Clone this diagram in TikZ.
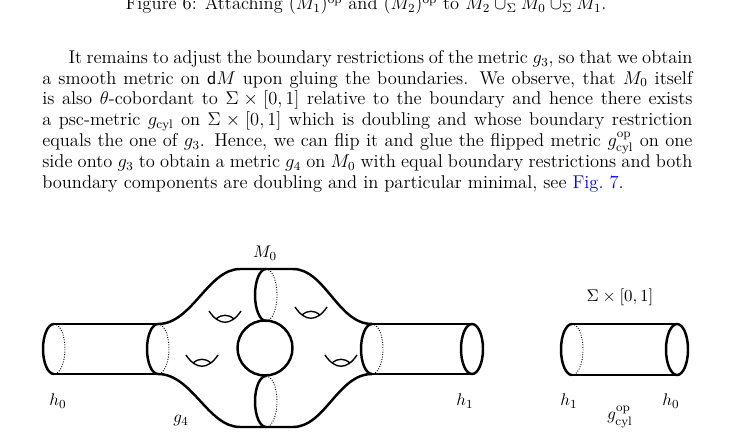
\documentclass[11pt,tikz,border=0pt]{standalone}
\usepackage{amsmath}
\usepackage{xcolor}
\usetikzlibrary{positioning}

\tikzset{
  surf/.style={line width=1.6pt},
  hidden/.style={densely dotted, line width=0.6pt},
  handle/.style={line width=0.9pt},
  lbl/.style={inner sep=1pt},
  prose/.style={font=\fontsize{12}{13.5}\selectfont},
}
\newcommand{\genus}[2]{%
  \draw[handle] (#1-16,#2-7) .. controls (#1-6,#2+8) and (#1+6,#2+8) .. (#1+16,#2-7);
  \draw[handle] (#1-9,#2+1) .. controls (#1-3,#2-4) and (#1+3,#2-4) .. (#1+9,#2+1);
}

\begin{document}
\begin{tikzpicture}[x=0.649pt, y=-0.649pt]

% page frame
\useasboundingbox (0,0) rectangle (732,438);

% Caption and text
\node[prose, anchor=base] (cap) at (366,10) {Figure 6: Attaching $(M_1)^{\mathrm{op}}$ and $(M_2)^{\mathrm{op}}$ to $M_2\cup_\Sigma M_0\cup_\Sigma M_1$.};
\node[prose, anchor=north west, inner sep=0pt, text width=422pt, align=justify] (para) at (42,50) {%
\hspace*{17pt}It remains to adjust the boundary restrictions of the metric $g_3$, so that we obtain\linebreak
a smooth metric on $\mathsf{d}M$ upon gluing the boundaries. We observe, that $M_0$ itself\linebreak
is also $\theta$-cobordant to $\Sigma\times[0,1]$ relative to the boundary and hence there exists\linebreak
a psc-metric $g_{\mathrm{cyl}}$ on $\Sigma\times[0,1]$ which is doubling and whose boundary restriction\linebreak
equals the one of $g_3$. Hence, we can flip it and glue the flipped metric $g_{\mathrm{cyl}}^{\mathrm{op}}$ on one\linebreak
side onto $g_3$ to obtain a metric $g_4$ on $M_0$ with equal boundary restrictions and both\linebreak
boundary components are doubling and in particular minimal, see \textcolor{blue}{Fig.~7}.\par};

% Left tube
\draw[surf] (54,324) arc (270:90:11 and 25);
\draw[hidden] (54,324) arc (-90:90:11 and 25);
\draw[surf] (54,324) -- (158,324);
\draw[surf] (54,374) -- (158,374);
\draw[surf] (158,324) arc (270:90:11 and 25);
\draw[hidden] (158,324) arc (-90:90:11 and 25);

% Body of M_0
\draw[surf] (158,324) .. controls (192,324) and (208,269) .. (240,269) -- (293,269)
  .. controls (325,269) and (338,324) .. (372,324);
\draw[surf] (158,374) .. controls (192,374) and (208,427) .. (240,427) -- (293,427)
  .. controls (325,427) and (338,374) .. (372,374);

% Hole and its necks
\draw[surf] (265,348) circle (27.5);
\draw[surf] (266,269) arc (270:90:11 and 26);
\draw[hidden] (266,269) arc (-90:90:11 and 26);
\draw[surf] (266,376) arc (270:90:11 and 25.5);
\draw[hidden] (266,376) arc (-90:90:11 and 25.5);

% Handles
\genus{225}{318}
\genus{202}{362}
\genus{311}{314}
\genus{341}{362}

% Right tube
\draw[surf] (372,324) arc (270:90:11 and 25);
\draw[hidden] (372,324) arc (-90:90:11 and 25);
\draw[surf] (372,324) -- (472,324);
\draw[surf] (372,374) -- (472,374);
\draw[surf] (472,349) ellipse (11 and 25);

% Cylinder
\draw[surf] (572,324) arc (270:90:11 and 25.5);
\draw[hidden] (572,324) arc (-90:90:11 and 25.5);
\draw[surf] (572,324) -- (677,324);
\draw[surf] (572,375) -- (677,375);
\draw[surf] (677,349.5) ellipse (11 and 25.5);

% Labels
\node[lbl] (m0) at (265,253) {$M_0$};
\node[lbl] (h0l) at (58,401) {$h_0$};
\node[lbl] (g4) at (181,421) {$g_4$};
\node[lbl] (h1l) at (465,401) {$h_1$};
\node[lbl] (sig) at (620,297) {$\Sigma\times[0,1]$};
\node[lbl] (h1r) at (569,401) {$h_1$};
\node[lbl] (h0r) at (671,401) {$h_0$};
\node[lbl] (gop) at (620,417) {$g_{\mathrm{cyl}}^{\mathrm{op}}$};

\end{tikzpicture}
\end{document}
